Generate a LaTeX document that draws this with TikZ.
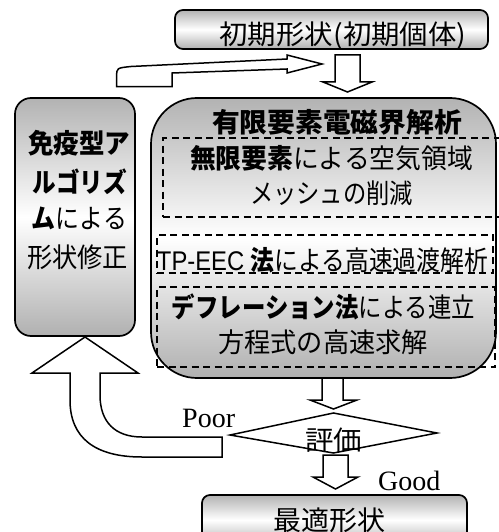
\documentclass[tikz,border=0pt]{standalone}
\usepackage{fontspec}
\usepackage{graphicx}
\setmainfont{Liberation Serif}
\newfontfamily\jp{Noto Sans CJK JP}[BoldFont={Noto Sans CJK JP Black}]
\newfontfamily\lat{Liberation Sans}
\newcommand\T[2]{\resizebox{#1pt}{\height}{\jp\fontsize{27}{27}\selectfont #2}}
\begin{document}
\begin{tikzpicture}[x=1pt,y=-1pt,
  shade box/.style={draw=black, line width=1.7pt, top color=gray!60, bottom color=gray!62, middle color=white},
  dashbox/.style={draw=black, line width=1.3pt, dash pattern=on 7pt off 4.5pt},
  blk/.style={draw=black, line width=1.5pt, fill=white, line join=miter},
  txt/.style={inner sep=0pt, anchor=center}]
\useasboundingbox (0,0) rectangle (498,532);
% boxes
\node[shade box, rounded corners=8pt, minimum width=313pt, minimum height=39pt] (top) at (331.5,29.5) {};
\node[shade box, rounded corners=46pt, minimum width=345pt, minimum height=280pt] (fem) at (323.5,238) {};
\node[shade box, rounded corners=16pt, minimum width=120pt, minimum height=238pt] (ais) at (75,217) {};
\node[shade box, rounded corners=8pt, minimum width=265pt, minimum height=50pt] (opt) at (334.5,520) {};
% dashed sub boxes
\node[dashbox, minimum width=342pt, minimum height=79pt] (d1) at (334,177.5) {};
\node[dashbox, minimum width=336pt, minimum height=38pt] (d2) at (325,254) {};
\node[dashbox, minimum width=338pt, minimum height=80pt] (d3) at (326,327) {};
% diamond
\draw[blk] (230,435) -- (333.5,413) -- (437,433) -- (333.5,453) -- cycle;
\coordinate (eval) at (333.5,434);
% block arrows
\draw[blk] (335,55) -- (360,55) -- (360,82) -- (372,82) -- (347.5,92) -- (323,82) -- (335,82) -- cycle;
\draw[blk] (322,378) -- (343,378) -- (343,400) -- (357,400) -- (333.5,409) -- (310,400) -- (322,400) -- cycle;
\draw[blk] (323,455) -- (348,455) -- (348,477) -- (358,477) -- (335.5,489) -- (313,477) -- (323,477) -- cycle;
% loop arrow at top
\draw[blk] (116.7,86.7) -- (116.7,76) .. controls (116.7,68) .. (131,66.5) -- (287,59) -- (287,55) -- (322,64) -- (287,73) -- (287,69) -- (172,73) -- (172,86.7) -- cycle;
% poor return arrow
\draw[blk] (32,373) -- (85,337) -- (138,373) -- (100,373) -- (100,395) .. controls (100,422) and (115,437) .. (142,437) -- (222,437) -- (222,457) -- (142,457) .. controls (95,457) and (70,438) .. (70,400) -- (70,373) -- cycle;
% texts
\node[txt] (t0) at (343,36) {\T{247}{初期形状(初期個体)}};
\node[txt] (t1) at (337,122) {\T{250}{\bfseries 有限要素電磁界解析}};
\node[txt] (t2) at (331.5,158) {\T{283}{\textbf{無限要素}による空気領域}};
\node[txt] (t3) at (331.5,193) {\T{163}{メッシュの削減}};
\node[txt] (t4) at (322.5,260) {\T{331}{{\lat TP-EEC }\textbf{法}による高速過渡解析}};
\node[txt] (t5) at (323.5,307) {\T{303}{\textbf{デフレーション法}による連立}};
\node[txt] (t6) at (323,342) {\T{210}{方程式の高速求解}};
\node[txt] (l1) at (79,143) {\T{102}{\bfseries 免疫型ア}};
\node[txt] (l2) at (80,182) {\T{94}{\bfseries ルゴリズ}};
\node[txt] (l3) at (79.5,218) {\T{95}{\textbf{ム}による}};
\node[txt] (l4) at (77.5,257) {\T{101}{形状修正}};
\node[txt] (ev) at (333.5,440) {\T{57}{評価}};
\node[txt] (ot) at (329,520) {\T{112}{最適形状}};
\node[inner sep=0pt, anchor=base west] (poor) at (182,427) {\fontsize{28}{28}\selectfont Poor};
\node[inner sep=0pt, anchor=base west] (good) at (378,490) {\fontsize{28}{28}\selectfont Good};
\end{tikzpicture}
\end{document}
